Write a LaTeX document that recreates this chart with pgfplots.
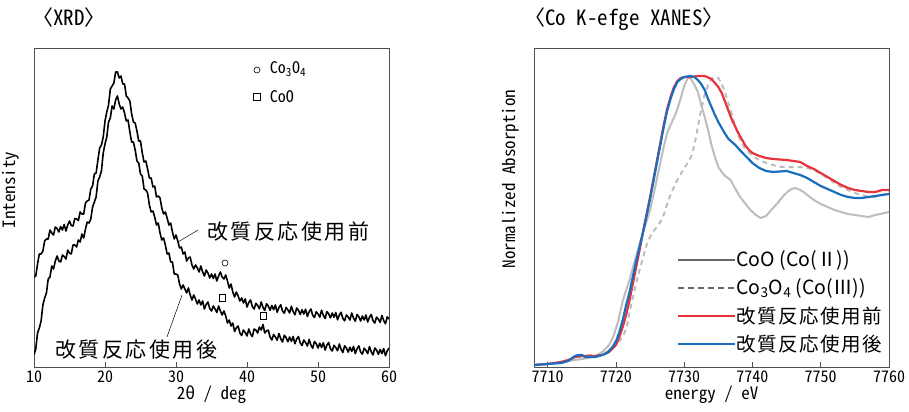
\documentclass[border=0pt]{standalone}
\usepackage{fontspec}
\usepackage{pgfplots}
\pgfplotsset{compat=1.18}
\setmainfont{Noto Sans Mono CJK JP}
\newfontfamily\jp{Noto Sans CJK JP}
\newfontfamily\jpls[LetterSpace=12]{Noto Sans CJK JP}
\newfontfamily\jplg[LetterSpace=8]{Noto Sans CJK JP}
\definecolor{axgray}{HTML}{505050}
\definecolor{cred}{HTML}{E8323C}
\definecolor{cblue}{HTML}{1A6EBE}
\definecolor{lgray}{HTML}{BDBDBD}
\definecolor{dgray}{HTML}{666666}
\newcommand{\fs}[1]{\fontsize{#1}{#1}\selectfont}
\pgfplotsset{
  base/.style={
    scale only axis, width=355bp, height=319bp,
    axis line style={axgray, line width=0.8bp},
    every tick/.style={axgray, line width=0.7bp},
    major tick length=5bp,
    tick align=inside, xtick pos=bottom, ytick=\empty,
    ymin=0, ymax=319,
    /pgf/number format/assume math mode=true,
    /pgf/number format/1000 sep={},
    tick label style={font=\fs{16bp}},
    label style={font=\fs{17bp}},
    xlabel style={yshift=3bp},
    clip=true,
  }
}
\begin{document}
\begin{tikzpicture}
\useasboundingbox (0,0) rectangle (909bp,412bp);
% ---------------- XRD ----------------
\begin{axis}[base, at={(34bp,45bp)}, anchor=south west,
  xmin=10, xmax=60, xtick={10,20,30,40,50,60},
  xlabel={2θ / deg},
  ylabel={Intensity},
  every axis y label/.style={at={([xshift=-11bp]rel axis cs:0,0.555)}, rotate=90, anchor=south, font=\fs{17bp}},
]
\addplot[black, line width=1.6bp, line join=round] table {
10.00 90
10.25 91
10.50 103
10.75 113
11.00 113
11.25 116
11.50 126
11.75 128
12.00 128
12.25 137
12.50 134
12.75 132
13.00 140
13.25 138.5
13.50 135
13.75 140.5
14.00 137
14.25 142.5
14.50 136
14.75 142
15.00 146
15.25 141.5
15.50 141
15.75 148.5
16.00 148
16.25 146.5
16.50 155
16.75 153
17.00 153
17.25 164
17.50 166
17.75 167
18.00 178
18.25 181
18.50 193
18.75 194
19.00 207
19.25 219
19.50 222
19.75 230
20.00 246
20.25 255
20.50 262
20.75 278
21.00 281
21.25 284
21.50 295
21.75 295
22.00 289
22.25 291
22.50 283
22.75 283
23.00 271
23.25 269
23.50 266
23.75 253
24.00 245
24.25 244
24.50 236
24.75 226
25.00 226
25.25 214
25.50 205
25.75 206
26.00 198
26.25 189
26.50 189
26.75 180
27.00 181
27.25 170
27.50 171
27.75 169
28.00 159
28.25 153
28.50 155
28.75 149
29.00 142
29.25 144
29.50 135
29.75 128
30.00 132
30.25 126
30.50 119
30.75 120
31.00 113
31.25 115
31.50 106
31.75 109
32.00 110
32.25 102
32.50 98
32.75 102
33.00 99
33.25 95
33.50 101
33.75 95
34.00 91
34.25 97
34.50 94
34.75 89
35.00 93
35.25 88.5
35.50 93
35.75 86
36.00 91
36.25 95
36.50 90
36.75 88
37.00 92
37.25 86
37.50 79
37.75 83
38.00 75
38.25 70
38.50 75
38.75 71
39.00 66
39.25 69
39.50 64
39.75 68
40.00 60
40.25 64.5
40.50 67
40.75 60.5
41.00 58
41.25 63.7
41.50 61.5
41.75 58.2
42.00 65
42.25 59.7
42.50 56.5
42.75 63.2
43.00 61
43.25 56.75
43.50 61.5
43.75 57.25
44.00 62
44.25 54.75
44.50 59.5
44.75 62.25
45.00 56
45.25 53.75
45.50 59.5
45.75 57.25
46.00 54
46.25 60.75
46.50 55.5
46.75 52.25
47.00 59
47.25 56.75
47.50 52.5
47.75 57.25
48.00 53
48.25 57.75
48.50 50.5
48.75 55.25
49.00 58
49.25 51.75
49.50 49.5
49.75 55.25
50.00 53
50.25 49.9
50.50 56.75
50.75 51.6
51.00 48.5
51.25 55.4
51.50 53.25
51.75 49.1
52.00 54
52.25 49.75
52.50 54.5
52.75 47.25
53.00 52
53.25 54.75
53.50 48.5
53.75 46.25
54.00 52
54.25 50
54.50 47
54.75 54
55.00 49
55.25 45.75
55.50 52.5
55.75 50.25
56.00 46
56.25 51
56.50 47
56.75 52
57.00 45
57.25 49.75
57.50 52.5
57.75 46.25
58.00 44
58.25 49.9
58.50 47.75
58.75 44.6
59.00 51.5
59.25 46.4
59.50 43.25
59.75 50.1
60.00 48
};
\addplot[black, line width=1.6bp, line join=round] table {
10.00 12
10.25 18
10.50 34
10.75 39
11.00 46
11.25 62
11.50 69
11.75 74
12.00 88
12.25 90
12.50 101
12.75 98
13.00 106
13.25 111
13.50 106
13.75 105
14.00 112
14.25 110.5
14.50 108
14.75 117
15.00 114
15.25 113
15.50 122
15.75 122
16.00 120
16.25 127
16.50 125
16.75 133
17.00 129
17.25 138
17.50 145
17.75 144
18.00 148
18.25 160
18.50 165
18.75 170
19.00 186
19.25 190
19.50 196
19.75 214
20.00 223
20.25 230
20.50 245
20.75 249
21.00 261
21.25 258
21.50 267
21.75 271
22.00 263
22.25 258
22.50 260
22.75 254
23.00 246
23.25 247
23.50 235
23.75 225
24.00 225
24.25 217
24.50 206
24.75 204
25.00 193
25.25 191
25.50 178
25.75 177
26.00 174
26.25 162
26.50 155
26.75 156
27.00 150
27.25 142
27.50 144
27.75 134
28.00 127
28.25 129
28.50 122
28.75 113
29.00 114
29.25 105
29.50 105
29.75 93
30.00 93
30.25 92
30.50 83
30.75 78
31.00 82
31.25 78
31.50 74
31.75 79
32.00 72
32.25 67
32.50 72
32.75 68
33.00 63
33.25 67
33.50 62
33.75 66
34.00 58
34.25 62.5
34.50 65
34.75 58.5
35.00 56
35.25 61
35.50 58
35.75 54.5
36.00 61
36.25 56
36.50 52
36.75 56
37.00 51
37.25 44
37.50 47
37.75 41
38.00 44
38.25 35.5
38.50 39
38.75 41
39.00 34
39.25 31.5
39.50 37
39.75 34.5
40.00 31
40.25 38
40.50 33
40.75 30.5
41.00 38
41.25 37
41.50 34
41.75 40
42.00 37
42.25 42.5
42.50 34
42.75 36
43.00 37
43.25 30
43.50 27
43.75 32.5
44.00 30
44.25 26.75
44.50 33.5
44.75 28.25
45.00 25
45.25 31.75
45.50 29.5
45.75 25.25
46.00 30
46.25 25.75
46.50 30.5
46.75 23.25
47.00 28
47.25 30.5
47.50 24
47.75 21.5
48.00 27
48.25 24.5
48.50 21
48.75 27.5
49.00 22
49.25 18.75
49.50 25.5
49.75 23.25
50.00 19
50.25 23.75
50.50 19.5
50.75 24.25
51.00 17
51.25 21.75
51.50 24.5
51.75 18.25
52.00 16
52.25 21.75
52.50 19.5
52.75 16.25
53.00 23
53.25 17.75
53.50 14.5
53.75 21.25
54.00 19
54.25 14.9
54.50 19.75
54.75 15.6
55.00 20.5
55.25 13.4
55.50 18.25
55.75 21.1
56.00 15
56.25 12.9
56.50 18.75
56.75 16.6
57.00 13.5
57.25 20.4
57.50 15.25
57.75 12.1
58.00 19
58.25 16.9
58.50 12.75
58.75 17.6
59.00 13.5
59.25 18.4
59.50 11.25
59.75 16.1
60.00 19
};
% phase markers
\addplot[only marks, mark=o, mark size=3bp, black, mark options={line width=0.6bp}] coordinates {(36.9,104) (41.4,297)};
\addplot[only marks, mark=square, mark size=3.2bp, black, mark options={line width=0.6bp}] coordinates {(36.5,69) (42.3,51) (41.4,270)};
% leader lines
\addplot[black, line width=0.5bp] coordinates {(30.28,125) (33.1,137)};
\addplot[black, line width=0.5bp] coordinates {(30.85,72) (28.73,30)};
\node[anchor=west, font=\fs{16bp}, inner sep=0] at (axis cs:43.2,298) {Co\textsubscript{3}O\textsubscript{4}};
\node[anchor=west, font=\fs{16bp}, inner sep=0] at (axis cs:43.2,270) {CoO};
\node[anchor=west, inner sep=0] at (axis cs:34.37,135) {\jpls\fs{21bp}改質反応使用前};
\node[anchor=west, inner sep=0] at (axis cs:12.96,17) {\jpls\fs{21bp}改質反応使用後};
\end{axis}
\node[anchor=base west, inner sep=0] at (32bp,386bp) {\fs{21bp}〈XRD〉};
% ---------------- XANES ----------------
\begin{axis}[base, at={(534bp,45bp)}, anchor=south west,
  xmin=7708, xmax=7760, xtick={7710,7720,...,7760},
  xlabel={energy / eV},
  ylabel={Normalized Absorption},
  every axis y label/.style={at={([xshift=-11bp]rel axis cs:0,0.59)}, rotate=90, anchor=south, font=\fs{17bp}},
  legend style={draw=none, fill=none, at={(rel axis cs:0.403,0.365)}, anchor=north west,
    font=\jp\fs{19.5bp}, inner sep=0pt, row sep=10bp,
    /tikz/every even column/.append style={column sep=0bp},
    nodes={inner sep=0bp, anchor=west, text depth=0.2em}},
  legend cell align=left,
  legend image code/.code={\draw[#1] (0bp,0bp) -- (45bp,0bp); \path (0bp,0bp) -- (57bp,0bp);},
]
\addplot[lgray, line width=2bp, forget plot] table {
7708 2
7710 3
7712 5
7713 6
7714 7
7715 8
7716 9
7717 11
7718 15
7719 22
7719.6 30
7720.3 45
7721 66
7721.5 77
7722 87
7722.5 100
7723 112
7723.5 124
7724 135
7724.5 146
7725 157
7725.5 172
7726 188
7726.5 204
7727 220
7727.5 234
7728 242
7728.5 249
7729 258
7729.5 269
7730 281
7730.6 290
7731 288
7731.5 282
7732 275
7732.5 262
7733 250
7733.5 237
7734 222
7734.5 210
7735 200
7735.5 195
7736 191
7736.8 187
7737.5 178
7738.2 170
7739 163
7739.7 157
7740.5 152
7741.2 149
7742 151
7742.5 155
7743 159
7743.7 164
7744.5 171
7745.1 175
7745.7 178
7746.3 179
7747 177
7747.5 175
7748.2 171
7749 167
7750 163
7751 160
7752 157
7753 155
7754 153
7755 152
7756 151
7757 150
7758 152
7759 153.5
7760 155
};
\addplot[lgray, line width=2bp, dash pattern=on 5bp off 4bp, forget plot] table {
7708 2
7710 3
7712 5
7713 7
7714 9
7715 11
7716 12
7717 12
7718 13
7719 16
7720 22
7721 30
7721.6 40
7722 55
7722.5 70
7723 85
7723.5 98
7724 110
7724.5 122
7725 130
7725.5 136
7726 140
7726.5 145
7727 152
7727.5 163
7728 172
7728.5 180
7729 187
7729.5 193
7730 199
7730.5 204
7731 210
7731.5 222
7732 240
7732.5 258
7733 272
7733.5 282
7734 288
7734.5 290
7735 289
7735.5 283
7736 274
7736.5 263
7737 252
7737.5 241
7738 230
7738.5 223
7739 218
7740 211
7741 207
7742 204
7743 202
7744 200
7745 200
7746 200
7747 200
7748 199
7749 197
7750 193
7751 189
7752 184
7753 180
7754 177
7755 174
7756 172
7757 170
7758 170
7759 172
7760 175
};
\addplot[cred, line width=2.2bp, forget plot] table {
7708 2
7710 3
7712 5
7713 7
7714 10
7715 11
7716 11
7717 11
7718 12
7719 15
7720 22
7720.5 30
7721 40
7721.5 52
7722 67
7722.5 84
7723 101
7723.5 118
7724 136
7724.5 153
7725 170
7725.5 188
7726 206
7726.5 224
7727 242
7727.5 258
7728 270
7728.5 280
7729 286
7729.5 289
7730 290
7731 290
7732 291
7733 291
7734 288
7735 280
7735.5 274
7736 265
7736.5 256
7737 247
7737.5 240
7738 233
7738.5 227
7739 221
7739.5 217
7740 214
7741 211
7742 209
7743 208
7744 207.5
7745 207
7746 206
7747 205
7748 201
7749 198
7750 194
7751 190
7752 186
7753 182
7754 179
7755 177
7756 176
7757 175
7758 175
7759 177
7760 177
};
\addplot[cblue, line width=2.2bp, forget plot] table {
7708 2
7710 3
7712 4
7713 6
7714 11
7714.5 12
7715 12
7715.5 10
7716 10
7717 10
7718 12
7718.7 14
7719.5 20
7720.1 27
7720.5 35
7721 47
7721.5 62
7722 75
7722.5 91
7723 107
7723.5 121
7724 136
7724.5 152
7725 168
7725.5 186
7726 204
7726.5 222
7727 240
7727.5 256
7728 268
7728.5 278
7729 285
7729.5 288
7730 290
7730.9 291
7731.5 290
7732 287
7732.5 283
7733 277
7733.5 268
7734 260
7734.5 252
7735 245
7735.5 239
7736 233
7736.5 228
7737 225
7737.5 222
7738 218
7739 211
7740 204
7741 199
7742 196
7743 195
7744 195.5
7745 196
7746 194
7747 192
7748 189
7749 185
7750 181
7751 178
7752 175
7753 172
7754 170
7755 169
7756 169
7757 170
7758 171
7759 172
7760 173
};
\addlegendimage{dgray, line width=2bp}
\addlegendentry{CoO (Co(Ⅱ))}
\addlegendimage{dgray, line width=2bp, dash pattern=on 6bp off 4bp}
\addlegendentry{Co\textsubscript{3}O\textsubscript{4} (Co(Ⅲ))}
\addlegendimage{cred, line width=2.2bp}
\addlegendentry{\jplg 改質反応使用前}
\addlegendimage{cblue, line width=2.2bp}
\addlegendentry{\jplg 改質反応使用後}
\end{axis}
\node[anchor=base west, inner sep=0] at (524bp,386bp) {\fs{21bp}〈Co K-efge XANES〉};
\end{tikzpicture}
\end{document}
